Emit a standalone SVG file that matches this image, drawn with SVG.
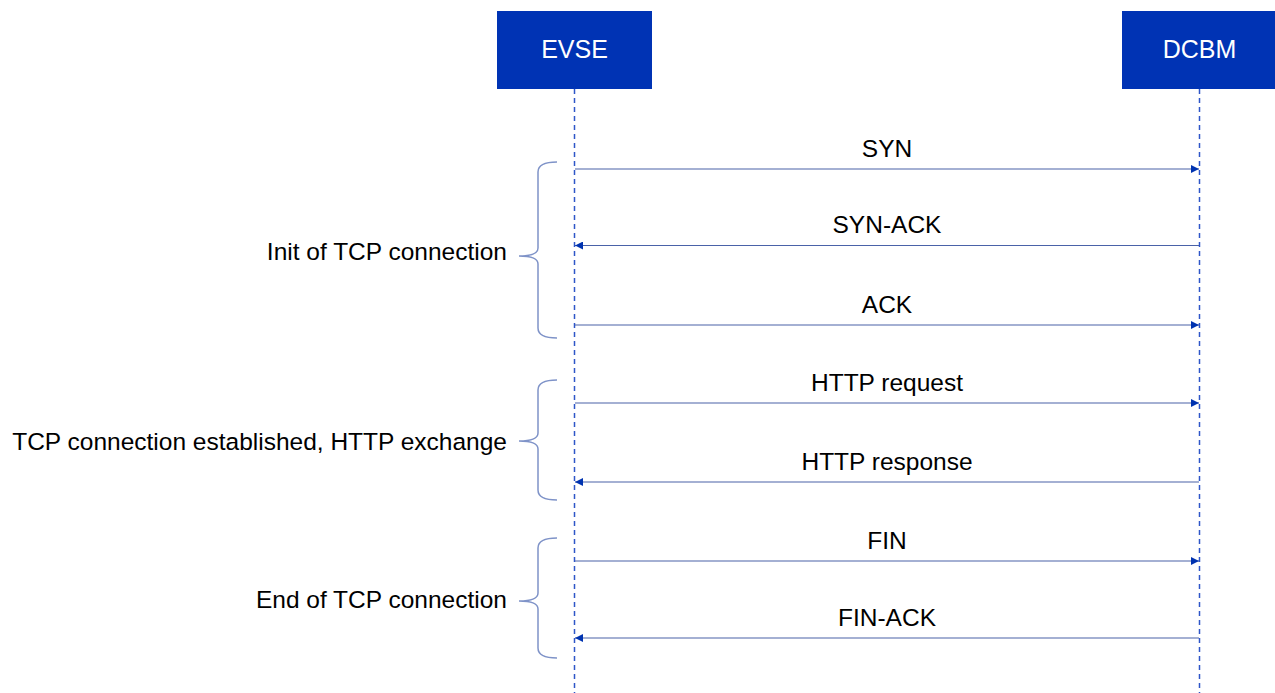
<svg xmlns="http://www.w3.org/2000/svg" width="1275" height="693" viewBox="0 0 1275 693">
<defs>
<marker id="ah" viewBox="0 0 10 10" refX="10" refY="5" markerWidth="8" markerHeight="8" markerUnits="userSpaceOnUse" orient="auto">
<path d="M0,0 L10,5 L0,10 z" fill="#0033b0"/>
</marker>
<style>
.box{fill:#0033b4}
.boxt{font-family:"Liberation Sans",Arial,sans-serif;font-size:25px;fill:#ffffff;text-anchor:middle}
.life{stroke:#2e56c8;stroke-width:1.5;stroke-dasharray:5,4;fill:none}
.msg{stroke:#4a62a8;stroke-width:1.2;fill:none;marker-end:url(#ah)}
.lbl{font-family:"Liberation Sans",Arial,sans-serif;font-size:24.5px;fill:#000;text-anchor:middle}
.grp{font-family:"Liberation Sans",Arial,sans-serif;font-size:24.5px;fill:#000;text-anchor:end}
.brace{stroke:#7f93c8;stroke-width:1.5;fill:none}
</style>
</defs>
<rect width="1275" height="693" fill="#ffffff"/>
<g id="evse">
<rect class="box" x="497" y="11" width="155" height="78"/>
<text class="boxt" x="574.5" y="58">EVSE</text>
</g>
<g id="dcbm">
<rect class="box" x="1122" y="11" width="155" height="78"/>
<text class="boxt" x="1199.5" y="58">DCBM</text>
</g>
<g id="lifelines">
<line class="life" x1="574.5" y1="89" x2="574.5" y2="693"/>
<line class="life" x1="1199.5" y1="89" x2="1199.5" y2="693"/>
</g>
<g id="connectors">
<line class="msg" x1="575" y1="169" x2="1199" y2="169"/>
<line class="msg" x1="1199" y1="245.5" x2="575" y2="245.5"/>
<line class="msg" x1="575" y1="325" x2="1199" y2="325"/>
<line class="msg" x1="575" y1="403" x2="1199" y2="403"/>
<line class="msg" x1="1199" y1="482" x2="575" y2="482"/>
<line class="msg" x1="575" y1="561" x2="1199" y2="561"/>
<line class="msg" x1="1199" y1="638" x2="575" y2="638"/>
</g>
<g id="labels">
<text class="lbl" x="887" y="157">SYN</text>
<text class="lbl" x="887" y="233">SYN-ACK</text>
<text class="lbl" x="887" y="313">ACK</text>
<text class="lbl" x="887" y="391">HTTP request</text>
<text class="lbl" x="887" y="470">HTTP response</text>
<text class="lbl" x="887" y="549">FIN</text>
<text class="lbl" x="887" y="626">FIN-ACK</text>
</g>
<g id="group-init">
<path class="brace" d="M557,162 Q538,162 538,172 L538,248 Q538,256 519,256 Q538,256 538,264 L538,328 Q538,338 557,338"/>
<text class="grp" x="507" y="260">Init of TCP connection</text>
</g>
<g id="group-http">
<path class="brace" d="M557,380 Q538,380 538,390 L538,433 Q538,441 519,441 Q538,441 538,449 L538,490 Q538,500 557,500"/>
<text class="grp" x="507" y="450">TCP connection established, HTTP exchange</text>
</g>
<g id="group-end">
<path class="brace" d="M557,538 Q538,538 538,548 L538,593 Q538,601 519,601 Q538,601 538,609 L538,648 Q538,658 557,658"/>
<text class="grp" x="507" y="608">End of TCP connection</text>
</g>
</svg>
